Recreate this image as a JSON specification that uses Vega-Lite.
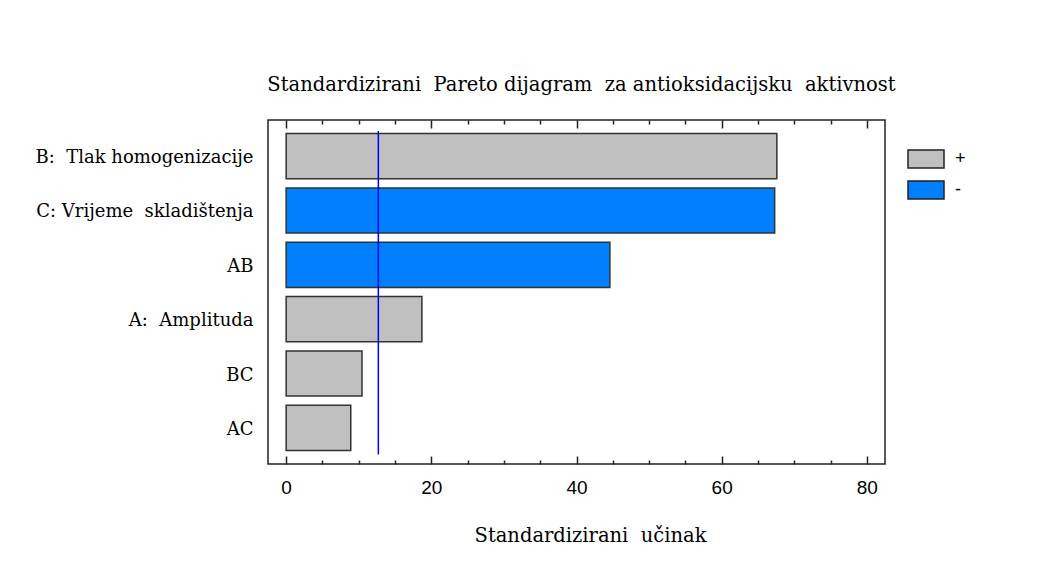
{
  "$schema": "https://vega.github.io/schema/vega-lite/v6.json",
  "width": 617,
  "height": 344,
  "autosize": {"type": "none"},
  "padding": {"left": 268, "top": 120, "right": 177, "bottom": 119},
  "background": "white",
  "config": {"view": {"stroke": "#222222", "strokeWidth": 1.5}},
  "title": {
    "text": "Standardizirani\u00a0 Pareto dijagram\u00a0 za antioksidacijsku\u00a0 aktivnost",
    "font": "DejaVu Serif",
    "fontSize": 19.5,
    "fontWeight": "normal",
    "color": "black",
    "offset": 24,
    "dx": 5
  },
  "datasets": {
    "effects": [
      {"effect": "B:\u00a0 Tlak homogenizacije", "value": 67.6, "sign": "+"},
      {"effect": "C: Vrijeme\u00a0 skladištenja", "value": 67.3, "sign": "-"},
      {"effect": "AB", "value": 44.6, "sign": "-"},
      {"effect": "A:\u00a0 Amplituda", "value": 18.7, "sign": "+"},
      {"effect": "BC", "value": 10.45, "sign": "+"},
      {"effect": "AC", "value": 8.9, "sign": "+"}
    ],
    "threshold": [{"value": 12.7}]
  },
  "layer": [
    {
      "data": {"name": "effects"},
      "mark": {"type": "bar", "stroke": "#333333", "strokeWidth": 1.5},
      "encoding": {
        "y": {
          "field": "effect",
          "type": "nominal",
          "sort": null,
          "scale": {"paddingInner": 0.17, "paddingOuter": 0.25},
          "axis": {
            "title": null,
            "ticks": false,
            "domain": false,
            "labelFont": "DejaVu Serif",
            "labelFontSize": 18,
            "labelColor": "black",
            "labelPadding": 15,
            "labelLimit": 400,
            "labelOffset": 2
          }
        },
        "x": {
          "field": "value",
          "type": "quantitative",
          "scale": {"domain": [-2.5, 82.5], "nice": false, "zero": false},
          "axis": {
            "orient": "bottom",
            "values": [0, 5, 10, 15, 20, 25, 30, 35, 40, 45, 50, 55, 60, 65, 70, 75, 80],
            "labelExpr": "datum.value % 20 === 0 ? datum.label : ''",
            "tickSize": {"condition": {"test": "datum.value % 20 === 0", "value": -8}, "value": -4},
            "tickColor": "#222222",
            "tickWidth": 1.5,
            "domain": false,
            "grid": false,
            "labelFont": "Liberation Sans",
            "labelFontSize": 19,
            "labelColor": "black",
            "labelPadding": 22,
            "labelFlush": false,
            "title": "Standardizirani\u00a0 učinak",
            "titleFont": "DejaVu Serif",
            "titleFontSize": 19.5,
            "titleFontWeight": "normal",
            "titleColor": "black",
            "titlePadding": 29,
            "titleX": 322
          }
        },
        "color": {
          "field": "sign",
          "type": "nominal",
          "scale": {"domain": ["+", "-"], "range": ["#C0C0C0", "#0080FF"]},
          "legend": {
            "orient": "none",
            "legendX": 639,
            "legendY": 20,
            "title": null,
            "symbolType": "M-1,-0.5H1V0.5H-1Z",
            "symbolSize": 1296,
            "symbolStrokeColor": "#222222",
            "symbolStrokeWidth": 1.5,
            "symbolOpacity": 1,
            "labelFont": "Liberation Sans",
            "labelFontSize": 18,
            "labelColor": "black",
            "labelOffset": 10,
            "rowPadding": -7
          }
        }
      }
    },
    {
      "data": {"name": "threshold"},
      "mark": {"type": "rule", "color": "#0000FF", "strokeWidth": 1.5},
      "encoding": {
        "x": {
          "field": "value",
          "type": "quantitative",
          "axis": {
            "orient": "top",
            "values": [0, 5, 10, 15, 20, 25, 30, 35, 40, 45, 50, 55, 60, 65, 70, 75, 80],
            "labels": false,
            "tickSize": {"condition": {"test": "datum.value % 20 === 0", "value": -8}, "value": -4},
            "tickColor": "#222222",
            "tickWidth": 1.5,
            "domain": false,
            "grid": false,
            "title": null
          }
        },
        "y": {"datum": "B:\u00a0 Tlak homogenizacije", "bandPosition": -0.06},
        "y2": {"datum": "AC", "bandPosition": 1.09}
      }
    }
  ],
  "resolve": {"axis": {"x": "independent"}}
}
